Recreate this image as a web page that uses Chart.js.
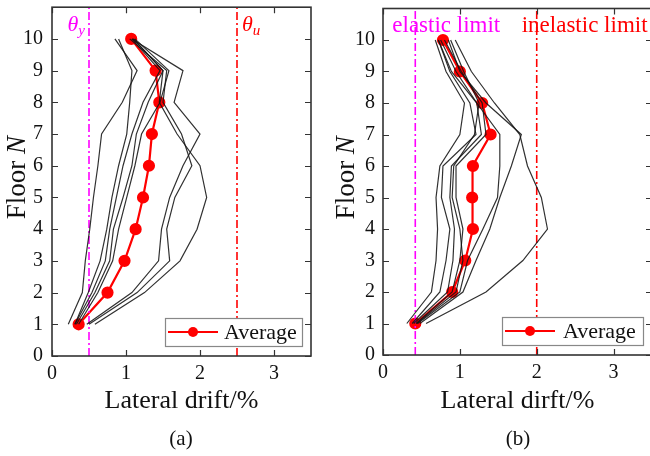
<!DOCTYPE html>
<html><head><meta charset="utf-8">
<script src="https://cdn.jsdelivr.net/npm/chart.js@4.4.1/dist/chart.umd.min.js"></script>
<style>
html,body{margin:0;padding:0;background:#fff;overflow:hidden;width:650px;height:456px;position:relative;}
canvas{position:absolute;top:0;}
#ca{left:0;} #cb{left:325px;}
.cap{position:absolute;top:426px;height:22px;line-height:22px;font:21px "Liberation Serif","Times New Roman",serif;text-align:center;color:#111;}
</style></head><body>
<canvas id="ca" width="325" height="456"></canvas>
<canvas id="cb" width="340" height="456"></canvas>
<div class="cap" style="left:81px;width:200px">(a)</div>
<div class="cap" style="left:418px;width:200px">(b)</div>
<script>
// ---------- data ----------
const floors = [1,2,3,4,5,6,7,8,9,10];
const xTickValues = [0,1,2,3];
const yTickValues = [0,1,2,3,4,5,6,7,8,9,10];

// panel (a)
const averageA = [0.36,0.75,0.98,1.13,1.23,1.31,1.35,1.45,1.40,1.07];
const a1 = [0.22,0.41,0.45,0.51,0.56,0.62,0.67,0.95,1.15,0.85];
const a2 = [0.31,0.49,0.65,0.74,0.81,0.90,1.01,1.05,1.08,0.90];
const a3 = [0.31,0.54,0.72,0.78,0.87,0.96,1.08,1.23,1.46,1.08];
const a4 = [0.33,0.58,0.78,0.83,0.96,1.08,1.14,1.30,1.50,1.10];
const a5 = [0.36,0.62,0.82,0.90,1.01,1.12,1.21,1.46,1.58,1.12];
const a6 = [0.47,1.08,1.44,1.48,1.59,1.77,2.00,1.65,1.77,1.08];
const a7 = [0.50,1.15,1.59,1.55,1.66,1.89,1.75,1.50,1.55,1.05];
const a8 = [0.58,1.25,1.73,1.96,2.09,2.00,1.69,1.45,1.50,1.10];
const limitsA = [0.5, 2.5];

// panel (b)
const averageB = [0.42,0.90,1.07,1.17,1.16,1.17,1.40,1.29,1.00,0.78];
const b1 = [0.56,1.34,1.82,2.14,2.06,1.88,1.78,1.45,1.15,0.94];
const b2 = [0.48,1.04,1.21,1.39,1.52,1.67,1.80,1.34,1.00,0.85];
const b3 = [0.45,1.00,1.10,1.30,1.49,1.52,1.52,1.22,0.89,0.72];
const b4 = [0.31,0.63,0.69,0.71,0.69,0.74,1.00,1.06,0.82,0.68];
const b5 = [0.38,0.74,0.82,0.87,0.76,0.78,1.21,1.13,0.87,0.72];
const b6 = [0.40,0.84,0.91,0.93,0.87,0.89,1.28,1.22,0.95,0.75];
const b7 = [0.43,0.90,1.00,1.04,0.95,0.95,1.34,1.29,1.02,0.80];
const b8 = [0.44,0.95,1.04,1.00,0.90,0.92,1.19,1.25,1.05,0.88];
const limitsB = [0.42, 2.0];

// ---------- helpers ----------
const SERIF = '"Liberation Serif","Times New Roman",serif';
const MAGENTA = '#ff00ff', RED = '#ff0000';

function pts(arr){ return floors.map((f,i)=>({x:arr[i], y:f})); }
function vline(v){ return [{x:v,y:0},{x:v,y:11}]; }

function buildDatasets(records, average, limits){
  const ds = records.map(r=>({data:pts(r), showLine:true, borderColor:'rgba(20,20,20,0.88)', borderWidth:1.2, pointRadius:0, tension:0}));
  ds.push({data:vline(limits[0]), showLine:true, borderColor:MAGENTA, borderWidth:1.6, borderDash:[8,3,2,3], pointRadius:0});
  ds.push({data:vline(limits[1]), showLine:true, borderColor:RED, borderWidth:1.6, borderDash:[8,3,2,3], pointRadius:0});
  ds.push({data:pts(average), showLine:true, borderColor:RED, backgroundColor:RED, borderWidth:2.2, pointRadius:5, pointBackgroundColor:RED, pointBorderColor:RED});
  return ds;
}

function makeDecor(cfg){
  return {
    id:'decor',
    afterDraw(chart){
      const ctx = chart.ctx, a = chart.chartArea, xs = chart.scales.x, ys = chart.scales.y;
      ctx.save();
      // inward ticks
      ctx.strokeStyle = '#333'; ctx.lineWidth = 1.2;
      ctx.beginPath();
      yTickValues.forEach(v=>{
        const p = Math.round(ys.getPixelForValue(v)) + 0.5;
        ctx.moveTo(a.left, p); ctx.lineTo(a.left+6, p);
        ctx.moveTo(a.right, p); ctx.lineTo(a.right-6, p);
      });
      xTickValues.forEach(v=>{
        const p = Math.round(xs.getPixelForValue(v)) + 0.5;
        ctx.moveTo(p, a.bottom); ctx.lineTo(p, a.bottom-6);
        ctx.moveTo(p, a.top); ctx.lineTo(p, a.top+6);
      });
      ctx.stroke();
      // frame
      ctx.lineWidth = 1.6; ctx.strokeStyle = '#333';
      ctx.strokeRect(a.left, a.top, a.right-a.left, a.bottom-a.top);
      // limit labels
      cfg.limitLabels(ctx, xs, a);
      // legend
      const lw = cfg.legW, lh = 28;
      const bx = a.right - 9 - lw, by = a.bottom - 10 - lh;
      ctx.fillStyle = '#fff'; ctx.fillRect(bx, by, lw, lh);
      ctx.strokeStyle = '#888'; ctx.lineWidth = 1.2; ctx.strokeRect(bx+0.5, by+0.5, lw, lh);
      ctx.strokeStyle = RED; ctx.lineWidth = 2.2;
      ctx.beginPath(); ctx.moveTo(bx+3, by+lh/2); ctx.lineTo(bx+53, by+lh/2); ctx.stroke();
      ctx.fillStyle = RED; ctx.beginPath(); ctx.arc(bx+28, by+lh/2, 5, 0, Math.PI*2); ctx.fill();
      ctx.fillStyle = '#111'; ctx.font = '22px '+SERIF; ctx.textBaseline = 'middle'; ctx.textAlign = 'left';
      ctx.fillText('Average', bx+cfg.legTextX, by+lh/2+1);
      // y title "Floor N"
      ctx.save();
      const cy = (a.top + a.bottom)/2 - 4;
      ctx.translate(cfg.yTitleX, cy); ctx.rotate(-Math.PI/2);
      ctx.font = '27px '+SERIF; const w1 = ctx.measureText('Floor ').width;
      ctx.font = 'italic 27px '+SERIF; const w2 = ctx.measureText('N').width;
      ctx.textBaseline = 'middle'; ctx.textAlign = 'left';
      const sx = -(w1+w2)/2;
      ctx.fillStyle = '#111';
      ctx.font = '27px '+SERIF; ctx.fillText('Floor ', sx, 0);
      ctx.font = 'italic 27px '+SERIF; ctx.fillText('N', sx+w1, 0);
      ctx.restore();
      ctx.restore();
    }
  };
}

function makeChart(id, cfg){
  return new Chart(document.getElementById(id), {
    type:'scatter',
    data:{datasets:buildDatasets(cfg.records, cfg.average, cfg.limits)},
    options:{
      responsive:false, animation:false, events:[],
      layout:{padding:{left:0, right:cfg.padRight, top:cfg.padTop, bottom:0}},
      plugins:{legend:{display:false}, tooltip:{enabled:false}},
      scales:{
        x:{type:'linear', min:0, max:3.5,
          afterBuildTicks:s=>{ s.ticks = xTickValues.map(v=>({value:v})); },
          ticks:{font:{family:SERIF,size:20}, color:'#111', padding:6, maxRotation:0, autoSkip:false},
          grid:{display:false, drawTicks:false}, border:{display:false},
          title:{display:true, text:cfg.xTitle, color:'#111', font:{family:SERIF,size:26}, padding:{top:0,bottom:39}},
          afterFit:s=>{ s.height = cfg.xHeight; s.paddingLeft = 0; s.paddingRight = 0; }
        },
        y:{type:'linear', min:0, max:11,
          afterBuildTicks:s=>{ s.ticks = yTickValues.map(v=>({value:v})); },
          ticks:{font:{family:SERIF,size:20}, color:'#111', padding:cfg.yLabelPad, autoSkip:false},
          grid:{display:false, drawTicks:false}, border:{display:false},
          afterFit:s=>{ s.width = cfg.yWidth; s.paddingTop = 0; s.paddingBottom = 0; }
        }
      }
    },
    plugins:[makeDecor(cfg)]
  });
}

function thetaLabel(ctx, x, y, sub, color, alignRight){
  ctx.fillStyle = color; ctx.textBaseline = 'alphabetic'; ctx.textAlign = 'left';
  ctx.font = 'italic 22px '+SERIF; const w1 = ctx.measureText('θ').width;
  ctx.font = 'italic 15px '+SERIF; const w2 = ctx.measureText(sub).width;
  const sx = alignRight ? x - w1 - w2 : x;
  ctx.font = 'italic 22px '+SERIF; ctx.fillText('θ', sx, y);
  ctx.font = 'italic 15px '+SERIF; ctx.fillText(sub, sx+w1, y+4);
}

makeChart('ca', {
  records:[a1,a2,a3,a4,a5,a6,a7,a8], average:averageA, limits:limitsA,
  xTitle:'Lateral drift/%', yWidth:52, xHeight:100, padTop:6.5, padRight:14, yLabelPad:9,
  yTitleX:18, legW:137, legTextX:59,
  limitLabels:(ctx, xs, a)=>{
    thetaLabel(ctx, xs.getPixelForValue(limitsA[0]) - 4, 31, 'y', MAGENTA, true);
    thetaLabel(ctx, xs.getPixelForValue(limitsA[1]) + 5, 31, 'u', RED, false);
  }
});

makeChart('cb', {
  records:[b1,b2,b3,b4,b5,b6,b7,b8], average:averageB, limits:limitsB,
  xTitle:'Lateral dirft/%', yWidth:58, xHeight:101, padTop:8.5, padRight:13, yLabelPad:8,
  yTitleX:22, legW:141, legTextX:61,
  limitLabels:(ctx, xs, a)=>{
    ctx.textBaseline = 'alphabetic'; ctx.textAlign = 'left'; ctx.font = '23px '+SERIF;
    ctx.fillStyle = MAGENTA; ctx.fillText('elastic limit', xs.getPixelForValue(limitsB[0]) - 23, 32);
    ctx.fillStyle = RED; ctx.fillText('inelastic limit', xs.getPixelForValue(limitsB[1]) - 15, 32);
  }
});
</script></body></html>
